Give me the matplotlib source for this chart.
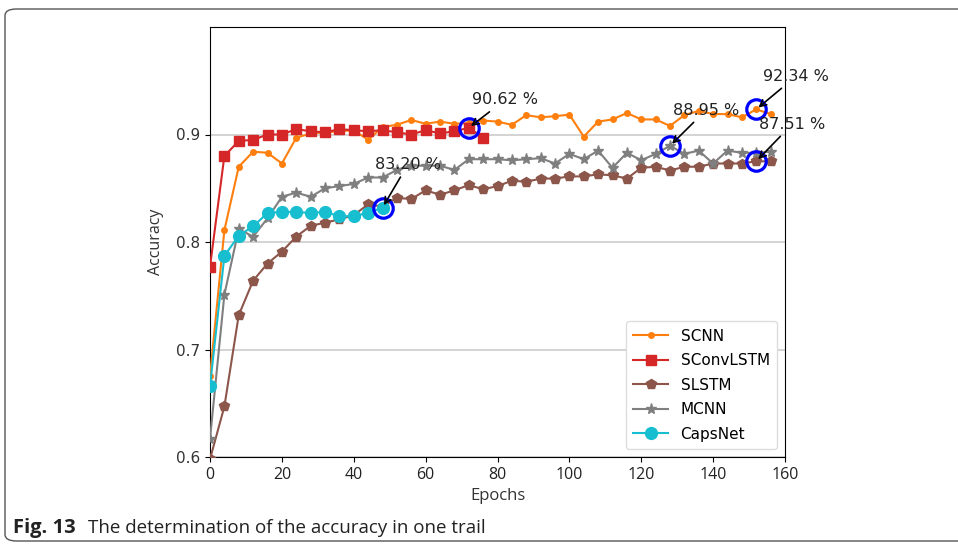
import matplotlib
matplotlib.use("Agg")
import matplotlib.pyplot as plt
from matplotlib.patches import FancyBboxPatch
import numpy as np

# ---- data ----
epochs_all = list(range(0, 160, 4))          # 0..156
epochs_sconv = list(range(0, 80, 4))         # 0..76
epochs_caps = list(range(0, 52, 4))          # 0..48

scnn = [0.675, 0.811, 0.870, 0.884, 0.883, 0.873, 0.897, 0.901, 0.902, 0.903,
        0.904, 0.895, 0.907, 0.909, 0.9135, 0.910, 0.912, 0.910, 0.9105, 0.913,
        0.912, 0.909, 0.918, 0.916, 0.917, 0.9185, 0.898, 0.912, 0.914, 0.920,
        0.914, 0.914, 0.908, 0.918, 0.922, 0.919, 0.919, 0.916, 0.9234, 0.919]
sconvlstm = [0.777, 0.880, 0.894, 0.895, 0.900, 0.900, 0.905, 0.903, 0.902, 0.905,
             0.904, 0.903, 0.904, 0.902, 0.900, 0.904, 0.901, 0.903, 0.9062, 0.897]
slstm = [0.598, 0.647, 0.732, 0.764, 0.780, 0.791, 0.805, 0.815, 0.818, 0.821,
         0.825, 0.835, 0.833, 0.841, 0.840, 0.848, 0.844, 0.848, 0.853, 0.849,
         0.852, 0.857, 0.856, 0.859, 0.859, 0.861, 0.861, 0.863, 0.862, 0.859,
         0.869, 0.870, 0.8665, 0.870, 0.870, 0.873, 0.873, 0.873, 0.8751, 0.875]
mcnn = [0.617, 0.751, 0.812, 0.805, 0.822, 0.842, 0.846, 0.842, 0.850, 0.852,
        0.854, 0.860, 0.860, 0.867, 0.871, 0.871, 0.871, 0.867, 0.877, 0.877,
        0.877, 0.876, 0.877, 0.878, 0.873, 0.882, 0.877, 0.885, 0.869, 0.883,
        0.876, 0.882, 0.8895, 0.882, 0.885, 0.873, 0.885, 0.883, 0.883, 0.884]
capsnet = [0.666, 0.787, 0.806, 0.8145, 0.827, 0.828, 0.828, 0.827, 0.828, 0.824,
           0.824, 0.827, 0.832]

# highlighted points: (epoch, value, label, text x, text y)
hl_x = [48, 72, 128, 152, 152]
hl_y = [0.832, 0.9062, 0.8895, 0.9234, 0.8751]
hl_labels = ["83.20 %", "90.62 %", "88.95 %", "92.34 %", "87.51 %"]
hl_tx = [45.9, 72.9, 128.8, 153.9, 152.8]
hl_ty = [0.868, 0.928, 0.9185, 0.950, 0.9055]

xticks = [0, 20, 40, 60, 80, 100, 120, 140, 160]
yticks = [0.6, 0.7, 0.8, 0.9]

# ---- figure ----
fig = plt.figure(figsize=(9.58, 5.44), dpi=100)
ax = fig.add_axes([210/958, 87/544, 575/958, 430/544])

ax.plot(epochs_all, scnn, color="tab:orange", marker=".", markersize=8, lw=1.5, label="SCNN", zorder=3)
ax.plot(epochs_sconv, sconvlstm, color="tab:red", marker="s", markersize=7, lw=1.5, label="SConvLSTM", zorder=4)
ax.plot(epochs_all, slstm, color="tab:brown", marker="p", markersize=7.5, lw=1.5, label="SLSTM", zorder=3)
ax.plot(epochs_all, mcnn, color="tab:gray", marker="*", markersize=8, lw=1.5, label="MCNN", zorder=3)
ax.plot(epochs_caps, capsnet, color="tab:cyan", marker="o", markersize=8.5, lw=1.5, label="CapsNet", zorder=4)

ax.plot(hl_x, hl_y, linestyle="none", marker="o", markersize=14, mfc="none",
        mec="blue", mew=2.3, zorder=6)

for x, y, lab, tx, ty in zip(hl_x, hl_y, hl_labels, hl_tx, hl_ty):
    ax.annotate(lab, xy=(x, y), xytext=(tx, ty), textcoords="data",
                fontsize=11.5, color="#222222", annotation_clip=False,
                arrowprops=dict(arrowstyle="->", color="black", lw=1.2,
                                shrinkA=2, shrinkB=2), zorder=7)

ax.set_xlim(0, 160)
ax.set_ylim(0.6, 1.0)
ax.set_xticks(xticks)
ax.set_yticks(yticks)
ax.set_yticklabels([f"{v:.1f}" for v in yticks], fontsize=11, color="#333333")
ax.set_xticklabels([str(v) for v in xticks], fontsize=11.5,
                   family=["Liberation Sans Narrow", "Open Sans", "DejaVu Sans"], color="#222222")
ax.yaxis.grid(True, color="#c8c8c8", lw=1.1)
ax.set_axisbelow(True)
ax.set_xlabel("Epochs", fontsize=12, family=["Open Sans", "DejaVu Sans"], color="#333333", labelpad=4)
ax.set_ylabel("Accuracy", fontsize=11.5, family=["Open Sans", "DejaVu Sans"], color="#333333", labelpad=9)

leg = ax.legend(loc="lower right", fontsize=11, framealpha=1.0, edgecolor="#dddddd",
                labelspacing=0.62, handlelength=2.3, borderpad=0.5)

# outer rounded frame
frame = FancyBboxPatch((5/958, 3/544), 1.2, 532/544,
                       boxstyle="round,pad=0,rounding_size=0.012",
                       transform=fig.transFigure, fill=False, edgecolor="#555555",
                       lw=1.0, clip_on=False)
fig.patches.append(frame)

fig.text(13/958, 11/544, "Fig. 13", fontsize=14.5, fontweight="bold",
         family=["Open Sans", "DejaVu Sans"], color="#222222")
fig.text(88/958, 11/544, "The determination of the accuracy in one trail", fontsize=13.5,
         family=["Open Sans", "DejaVu Sans"], color="#222222")

fig.savefig("out.png", dpi=100)
